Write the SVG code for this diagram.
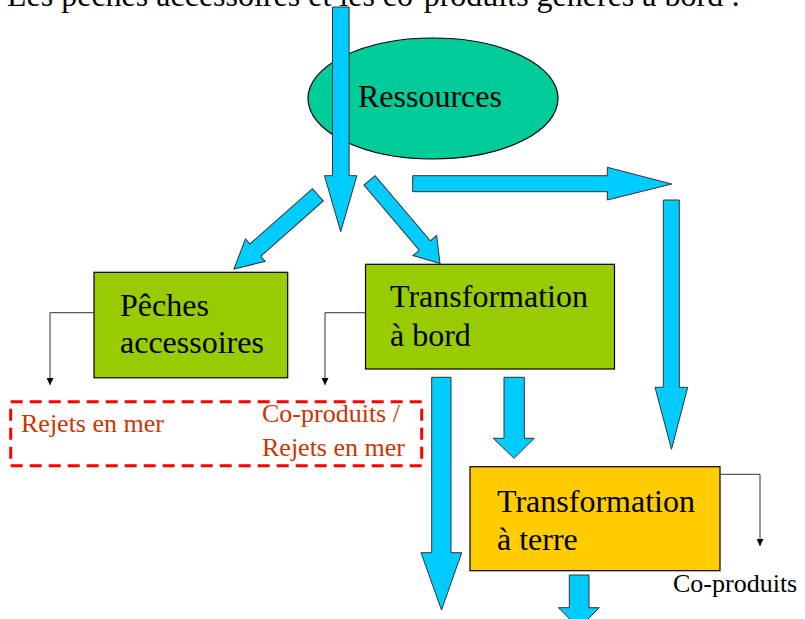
<svg xmlns="http://www.w3.org/2000/svg" width="805" height="619" viewBox="0 0 805 619">
<defs>
<style>
text{font-family:"Liberation Serif","Times New Roman",serif;}
.big{font-size:32px;fill:#000;}
.small{font-size:26px;}
.red{fill:#CC3300;}
.blk{fill:#000;}
.green{fill:#99CC00;stroke:#000;stroke-width:1.2;}
.arrow{fill:#00CCFF;stroke:#333;stroke-width:1;stroke-linejoin:miter;}
.thin{fill:none;stroke:#333;stroke-width:1;}
</style>
<marker id="tri" viewBox="0 0 10 10" refX="10" refY="5" markerWidth="7" markerHeight="7" markerUnits="userSpaceOnUse" orient="auto">
<path d="M0,0 L10,5 L0,10 z" fill="#000"/>
</marker>
</defs>
<rect width="805" height="619" fill="#fff"/>
<text id="title" class="big" x="7" y="6">Les pêches accessoires et les co-produits générés à bord :</text>

<g id="ressources">
<ellipse cx="433" cy="98.5" rx="125" ry="60.5" fill="#00CC99" stroke="#000" stroke-width="1.2"/>
<text class="big" x="358" y="107">Ressources</text>
</g>

<g id="peches">
<rect class="green" x="94" y="272.3" width="193.7" height="105.5"/>
<text class="big" x="120" y="316">Pêches</text>
<text class="big" x="120" y="353">accessoires</text>
</g>

<g id="transfo-bord">
<rect class="green" x="365.5" y="264.3" width="249" height="104.7"/>
<text class="big" x="390" y="307">Transformation</text>
<text class="big" x="390" y="346">à bord</text>
</g>

<g id="transfo-terre">
<rect x="470" y="466.7" width="250" height="104" fill="#FFCC00" stroke="#000" stroke-width="1.2"/>
<text class="big" x="497" y="512">Transformation</text>
<text class="big" x="497" y="550">à terre</text>
</g>

<g id="rejets">
<rect x="10.7" y="401.7" width="411" height="64" fill="none" stroke="#FF0000" stroke-width="3" stroke-dasharray="12 7"/>
<text class="small red" x="21" y="432">Rejets en mer</text>
<text class="small red" x="262" y="422">Co-produits /</text>
<text class="small red" x="262" y="456">Rejets en mer</text>
</g>

<g id="coproduits">
<text class="small blk" x="673" y="592">Co-produits</text>
</g>

<g id="connectors">
<polygon class="arrow" points="332.5,7 349.1,7 349.1,175.7 356.9,175.7 340.7,231.7 324.5,175.7 332.5,175.7"/>
<polygon class="arrow" transform="translate(234,269) rotate(138.5)" points="0,0 -28.5,15 -28.5,8.2 -112,8.2 -112,-8.2 -28.5,-8.2 -28.5,-15"/>
<polygon class="arrow" transform="translate(440,263.5) rotate(49.7)" points="0,0 -23.5,15.5 -23.5,7.3 -109,7.3 -109,-7.3 -23.5,-7.3 -23.5,-15.5"/>
<polygon class="arrow" points="412.7,175.7 607.3,175.7 607.3,167.3 671.7,184 607.3,200 607.3,191.7 412.7,191.7"/>
<polygon class="arrow" points="663.3,200 679.3,200 679.3,387.3 687.7,387.3 671.5,449.3 655,387.3 663.3,387.3"/>
<polygon class="arrow" points="431.7,377.3 451,377.3 451,552.7 461.7,552.7 441.5,610 421,552.7 431.7,552.7"/>
<polygon class="arrow" points="504,377.3 524.3,377.3 524.3,438.3 534.3,438.3 514,458.3 493.3,438.3 504,438.3"/>
<polygon class="arrow" points="569.3,575 589,575 589,607.7 599.3,607.7 579,628 558.3,607.7 569.3,607.7"/>
<path class="thin" d="M94,312.7 H50 V385" marker-end="url(#tri)"/>
<path class="thin" d="M365.5,312.7 H325 V385" marker-end="url(#tri)"/>
<path class="thin" d="M720,474.3 H760 V546" marker-end="url(#tri)"/>
</g>
</svg>
